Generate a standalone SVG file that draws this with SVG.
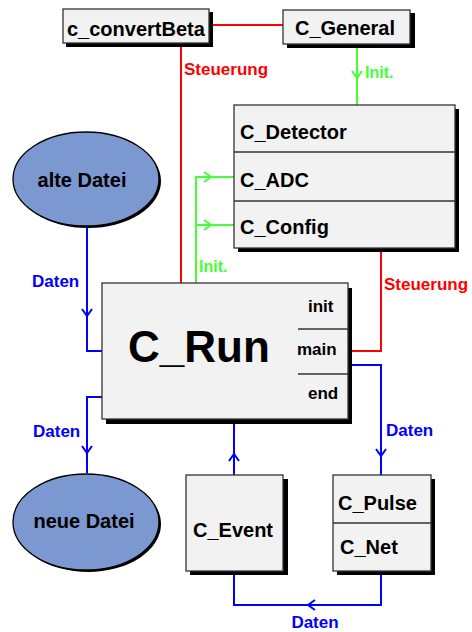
<svg xmlns="http://www.w3.org/2000/svg" xmlns:xlink="http://www.w3.org/1999/xlink" width="472" height="632" viewBox="0 0 472 632">
<style>
.box{fill:#f2f2f2;stroke:#333;stroke-width:1.3}
.sh{fill:#000}
.ell{fill:#7b98d0;stroke:#000;stroke-width:1.3}
.t{font-family:"Liberation Sans",Arial,sans-serif;font-weight:bold;fill:#000}
.lbl{font-family:"Liberation Sans",Arial,sans-serif;font-weight:bold}
.r{stroke:#ff0000;fill:none;stroke-width:2}
.g{stroke:#44ff33;fill:none;stroke-width:2}
.b{stroke:#0000ff;fill:none;stroke-width:2}
.div{stroke:#333;stroke-width:1.3}
</style>
<defs>
<path id="chev" d="M-5,-7 L0,0 L5,-7" fill="none" stroke-width="2"/>
</defs>
<rect width="472" height="632" fill="#fff"/>

<g id="connectors">
<path class="r" d="M209,25 H283"/>
<path class="r" d="M181,43 V283"/>
<path class="g" d="M357,44 V105"/>
<path class="g" d="M196,283 V177 H234 M196,225 H234"/>
<path class="r" d="M381,248 V351 H348"/>
<path class="b" d="M87,227 V351 H102"/>
<path class="b" d="M102,397 H87 V473"/>
<path class="b" d="M348,365 H381 V475"/>
<path class="b" d="M234,475 V419"/>
<path class="b" d="M381,571 V605 H234 V571"/>
<use xlink:href="#chev" stroke="#44ff33" transform="translate(357,78)"/>
<use xlink:href="#chev" stroke="#44ff33" transform="translate(211,177) rotate(-90)"/>
<use xlink:href="#chev" stroke="#44ff33" transform="translate(211,225) rotate(-90)"/>
<use xlink:href="#chev" stroke="#0000ff" transform="translate(87,316)"/>
<use xlink:href="#chev" stroke="#0000ff" transform="translate(87,453)"/>
<use xlink:href="#chev" stroke="#0000ff" transform="translate(381,456)"/>
<use xlink:href="#chev" stroke="#0000ff" transform="translate(234,454) rotate(180)"/>
<use xlink:href="#chev" stroke="#0000ff" transform="translate(308,605) rotate(90)"/>
<text class="lbl" x="184" y="75" font-size="17" fill="#ff0000">Steuerung</text>
<text class="lbl" x="365" y="78" font-size="16" fill="#44ff33">Init.</text>
<text class="lbl" x="199" y="272" font-size="16" fill="#44ff33">Init.</text>
<text class="lbl" x="384" y="290" font-size="17" fill="#ff0000">Steuerung</text>
<text class="lbl" x="32" y="287" font-size="17" fill="#0000ff">Daten</text>
<text class="lbl" x="33" y="437" font-size="17" fill="#0000ff">Daten</text>
<text class="lbl" x="386" y="436" font-size="17" fill="#0000ff">Daten</text>
<text class="lbl" x="315" y="628" font-size="17" fill="#0000ff" text-anchor="middle">Daten</text>
</g>

<g id="c_convertBeta">
<rect class="sh" x="66" y="12" width="147" height="35"/>
<rect class="box" x="63" y="9" width="146" height="34"/>
<text class="t" x="67" y="36" font-size="20">c_convertBeta</text>
</g>

<g id="C_General">
<rect class="sh" x="287" y="13" width="128" height="35"/>
<rect class="box" x="283" y="10" width="127" height="34"/>
<text class="t" x="295" y="35" font-size="20">C_General</text>
</g>

<g id="C_Detector">
<rect class="sh" x="238" y="109" width="221" height="143"/>
<rect class="box" x="234" y="105" width="221" height="143"/>
<line class="div" x1="234" y1="152" x2="455" y2="152"/>
<line class="div" x1="234" y1="201" x2="455" y2="201"/>
<text class="t" x="240" y="139" font-size="20">C_Detector</text>
<text class="t" x="240" y="187" font-size="20">C_ADC</text>
<text class="t" x="240" y="234" font-size="20">C_Config</text>
</g>

<g id="alte_Datei">
<ellipse cx="88" cy="181" rx="73" ry="47" fill="#000"/>
<ellipse class="ell" cx="86" cy="179" rx="73" ry="47"/>
<text class="t" x="82" y="187" font-size="20" text-anchor="middle">alte Datei</text>
</g>

<g id="C_Run">
<rect class="sh" x="106" y="288" width="246" height="136"/>
<rect class="box" x="102" y="283" width="246" height="136"/>
<line class="div" x1="298" y1="329" x2="348" y2="329"/>
<line class="div" x1="298" y1="374" x2="348" y2="374"/>
<text class="t" x="128" y="362" font-size="44">C_Run</text>
<text class="t" x="308" y="312" font-size="17">init</text>
<text class="t" x="297" y="355" font-size="17">main</text>
<text class="t" x="308" y="399" font-size="17">end</text>
</g>

<g id="neue_Datei">
<ellipse cx="88" cy="524" rx="73" ry="48" fill="#000"/>
<ellipse class="ell" cx="86" cy="522" rx="73" ry="48"/>
<text class="t" x="84" y="528" font-size="20" text-anchor="middle">neue Datei</text>
</g>

<g id="C_Event">
<rect class="sh" x="190" y="479" width="98" height="96"/>
<rect class="box" x="186" y="475" width="97" height="96"/>
<text class="t" x="193" y="537" font-size="20">C_Event</text>
</g>

<g id="C_Pulse">
<rect class="sh" x="337" y="479" width="98" height="96"/>
<rect class="box" x="333" y="475" width="98" height="96"/>
<line class="div" x1="333" y1="523" x2="431" y2="523"/>
<text class="t" x="338" y="510" font-size="20">C_Pulse</text>
<text class="t" x="340" y="554" font-size="20">C_Net</text>
</g>
</svg>
